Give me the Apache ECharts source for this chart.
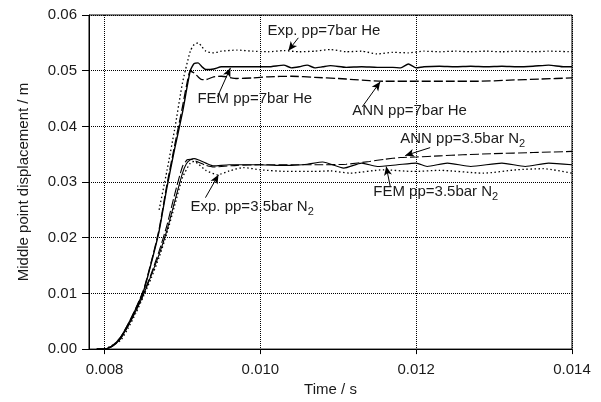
<!DOCTYPE html>
<html>
<head>
<meta charset="utf-8">
<script src="https://cdn.jsdelivr.net/npm/echarts/dist/echarts.min.js"></script>
<style>
  html, body { margin: 0; padding: 0; background: #fff; }
  #main { width: 601px; height: 402px; }
</style>
</head>
<body>
<div id="main"></div>
<script>
// [time / s, displacement / m]
const femHe = [[0.0079,0],[0.0080,0],[0.0081,0.0006],[0.0082,0.0020],[0.0083,0.0044],[0.0084,0.0072],[0.0085,0.0104],[0.0086,0.0155],[0.0087,0.0212],[0.0088,0.0290],[0.0089,0.0360],[0.0090,0.0425],[0.0091,0.0500],[0.00915,0.0513],[0.0092,0.0514],[0.00925,0.0507],[0.0093,0.0502],[0.0094,0.0503],[0.0095,0.0507],[0.0097,0.0507],[0.0099,0.0507],[0.0101,0.0507],[0.0103,0.0510],[0.0104,0.0505],[0.0105,0.0507],[0.0106,0.0510],[0.0107,0.0505],[0.0108,0.0507],[0.0109,0.0509],[0.0111,0.0506],[0.0113,0.0507],[0.0115,0.0506],[0.0117,0.0506],[0.0118,0.0505],[0.0119,0.0512],[0.0120,0.0505],[0.0121,0.0507],[0.0123,0.0508],[0.0125,0.0507],[0.0127,0.0508],[0.0129,0.0507],[0.0131,0.0508],[0.0133,0.0507],[0.0135,0.0508],[0.0137,0.0510],[0.0139,0.0507],[0.0140,0.0507]]
const annHe = [[0.0079,0],[0.0080,0],[0.0081,0.0006],[0.0082,0.0020],[0.0083,0.0044],[0.0084,0.0073],[0.0085,0.0106],[0.0086,0.0157],[0.0087,0.0215],[0.0088,0.0295],[0.0089,0.0366],[0.0090,0.0435],[0.00905,0.0472],[0.0091,0.0499],[0.00915,0.0496],[0.0092,0.0489],[0.00925,0.0484],[0.0093,0.0484],[0.0094,0.0489],[0.0095,0.0490],[0.0097,0.0486],[0.0099,0.0487],[0.0101,0.0489],[0.0104,0.0490],[0.0107,0.0488],[0.0110,0.0486],[0.0112,0.0484],[0.0114,0.0482],[0.0116,0.0481],[0.0120,0.0481],[0.0124,0.0481],[0.0128,0.0481],[0.0132,0.0483],[0.0136,0.0485],[0.0140,0.0487]]
const expHe = [[0.0087,0.0250],[0.0088,0.0320],[0.0089,0.0395],[0.0090,0.0478],[0.0091,0.0535],[0.00915,0.0547],[0.0092,0.0550],[0.00925,0.0543],[0.0093,0.0535],[0.0094,0.0532],[0.0095,0.0535],[0.0097,0.0537],[0.0099,0.0535],[0.0101,0.0534],[0.0103,0.0536],[0.0105,0.0534],[0.0107,0.0535],[0.0109,0.0538],[0.0111,0.0534],[0.0113,0.0535],[0.0115,0.0530],[0.0117,0.0533],[0.0119,0.0532],[0.0121,0.0535],[0.0123,0.0534],[0.0125,0.0535],[0.0127,0.0534],[0.0129,0.0535],[0.0131,0.0534],[0.0133,0.0535],[0.0135,0.0534],[0.0137,0.0535],[0.0140,0.0534]]
const femN2 = [[0.0079,0],[0.0080,0],[0.0081,0.0005],[0.0082,0.0018],[0.0083,0.0041],[0.0084,0.0068],[0.0085,0.0098],[0.0086,0.0133],[0.0087,0.0170],[0.0088,0.0213],[0.0089,0.0265],[0.0090,0.0316],[0.00905,0.0333],[0.0091,0.0340],[0.00915,0.0342],[0.0092,0.0340],[0.0093,0.0334],[0.0094,0.0329],[0.0096,0.0331],[0.0098,0.0331],[0.0100,0.0331],[0.0102,0.0330],[0.0104,0.0330],[0.0106,0.0332],[0.0108,0.0336],[0.01107,0.0325],[0.0113,0.0334],[0.0115,0.0328],[0.01176,0.0331],[0.0120,0.0334],[0.01214,0.0328],[0.0124,0.0334],[0.0127,0.0328],[0.0131,0.0334],[0.0134,0.0328],[0.0137,0.0334],[0.0140,0.0331]]
const annN2 = [[0.0079,0],[0.0080,0],[0.0081,0.0005],[0.0082,0.0018],[0.0083,0.0041],[0.0084,0.0069],[0.0085,0.0100],[0.0086,0.0136],[0.0087,0.0176],[0.0088,0.0222],[0.0089,0.0278],[0.0090,0.0328],[0.00906,0.0340],[0.0091,0.0341],[0.0092,0.0336],[0.0093,0.0330],[0.0094,0.0327],[0.0095,0.0328],[0.0097,0.0330],[0.0100,0.0331],[0.0104,0.0331],[0.0108,0.0331],[0.0111,0.0332],[0.0114,0.0337],[0.0116,0.0341],[0.0118,0.0344],[0.0120,0.0345],[0.0123,0.0347],[0.0126,0.0349],[0.0130,0.0351],[0.0135,0.0353],[0.0140,0.0355]]
const expN2 = [[0.0080,0],[0.0082,0.0015],[0.0083,0.0037],[0.0084,0.0064],[0.0085,0.0095],[0.0086,0.0128],[0.0087,0.0165],[0.0088,0.0208],[0.0089,0.0258],[0.0090,0.0308],[0.0091,0.0334],[0.00915,0.0337],[0.0092,0.0333],[0.0093,0.0321],[0.00945,0.0313],[0.0096,0.0320],[0.00978,0.0326],[0.0100,0.0322],[0.01034,0.0319],[0.01068,0.0319],[0.0109,0.0320],[0.01115,0.0316],[0.01158,0.0322],[0.01196,0.0319],[0.0123,0.0321],[0.01286,0.0316],[0.01329,0.0322],[0.01363,0.0324],[0.0140,0.0316]]

const xTicks = [0.008, 0.010, 0.012, 0.014]

// annotations: text, subscript, text anchor (left, middle), arrow tail, arrow tip
const annoText = ['Exp. pp=7bar He', 'FEM pp=7bar He', 'ANN pp=7bar He', 'ANN pp=3.5bar N', 'FEM pp=3.5bar N', 'Exp. pp=3.5bar N']
const annoSub = ['', '', '', '2', '2', '2']
const annoPos = [[0.01009, 0.0568], [0.009192, 0.0446], [0.011179, 0.0426], [0.011795, 0.0375], [0.011449, 0.0280], [0.009103, 0.0253]]
const arrowFrom = [[0.010487, 0.0559], [0.009449, 0.04532], [0.011308, 0.04352], [0.012179, 0.03618], [0.011667, 0.0292], [0.009295, 0.0272]]
const arrowTo = [[0.010359, 0.0536], [0.009615, 0.0505], [0.011538, 0.0480], [0.011859, 0.03475], [0.011615, 0.0328], [0.009462, 0.0313]]

const font = 'Liberation Sans, Arial, sans-serif'
const ink = '#1a1a1a'

function curve(name, data, type, width) {
  return {
    name: name,
    type: 'line',
    data: data,
    showSymbol: false,
    smooth: 0.2,
    lineStyle: { color: '#000', width: width, type: type },
    silent: true
  }
}

var myChart = echarts.init(document.getElementById('main'))
myChart.setOption({
  animation: false,
  backgroundColor: '#fff',
  grid: {
    left: 89, right: 29, top: 15, bottom: 52,
    show: true, borderColor: '#000', borderWidth: 1
  },
  xAxis: {
    type: 'value',
    min: 0.0078,
    max: 0.014,
    name: 'Time / s',
    nameLocation: 'middle',
    nameGap: 32,
    nameTextStyle: { fontFamily: font, fontSize: 15, color: ink },
    axisLine: { lineStyle: { color: '#000', width: 1 } },
    axisTick: { customValues: xTicks, length: 5, lineStyle: { color: '#000' } },
    axisLabel: {
      customValues: xTicks,
      formatter: v => v.toFixed(3),
      fontFamily: font, fontSize: 15, color: ink, margin: 13
    },
    splitLine: { show: true, lineStyle: { color: '#000', type: 'dotted', width: 1 } }
  },
  yAxis: {
    type: 'value',
    min: 0,
    max: 0.06,
    interval: 0.01,
    name: 'Middle point displacement / m',
    nameLocation: 'middle',
    nameGap: 58,
    nameTextStyle: { fontFamily: font, fontSize: 15, color: ink },
    axisLine: { show: true, lineStyle: { color: '#000', width: 1 } },
    axisTick: { show: true, length: 7, lineStyle: { color: '#000' } },
    axisLabel: {
      formatter: v => v.toFixed(2),
      fontFamily: font, fontSize: 15, color: ink, margin: 12
    },
    splitLine: { show: true, lineStyle: { color: '#000', type: 'dotted', width: 1 } }
  },
  series: [
    curve('Exp. pp=7bar He', expHe, [1.5, 2.5], 1.3),
    curve('FEM pp=7bar He', femHe, 'solid', 1.4),
    curve('ANN pp=7bar He', annHe, [9, 3], 1.3),
    curve('Exp. pp=3.5bar N2', expN2, [1.5, 2.5], 1.3),
    curve('FEM pp=3.5bar N2', femN2, 'solid', 1.1),
    curve('ANN pp=3.5bar N2', annN2, [9, 3], 1.1),
    {
      name: 'annotations',
      type: 'line',
      data: [],
      silent: true,
      markLine: {
        silent: true,
        symbol: ['none', 'arrow'],
        symbolSize: [6, 9],
        label: { show: false },
        lineStyle: { color: '#000', width: 1, type: 'solid' },
        data: arrowFrom.map((p, i) => [{ coord: p }, { coord: arrowTo[i] }])
      },
      markPoint: {
        silent: true,
        symbol: 'circle',
        symbolSize: 0,
        label: {
          show: true,
          position: 'right',
          distance: 0,
          formatter: p => '{a|' + annoText[p.dataIndex] + '}' +
            (annoSub[p.dataIndex] ? '{s|' + annoSub[p.dataIndex] + '}' : ''),
          rich: {
            a: { fontFamily: font, fontSize: 15, color: ink, lineHeight: 18, verticalAlign: 'top' },
            s: { fontFamily: font, fontSize: 11, color: ink, lineHeight: 14, padding: [7, 0, 0, 0], verticalAlign: 'top' }
          }
        },
        data: annoPos.map((p, i) => ({ coord: p, name: annoText[i] }))
      }
    }
  ]
})
</script>
</body>
</html>
